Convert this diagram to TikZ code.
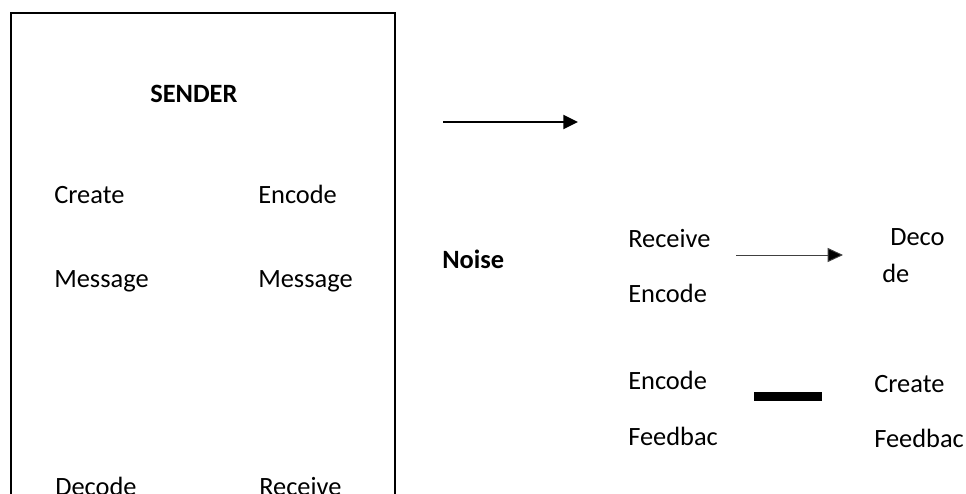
\documentclass[tikz,border=0pt]{standalone}
\usepackage{fontspec}
\setmainfont{Carlito}
\usetikzlibrary{arrows.meta}
\tikzset{
  lbl/.style={inner sep=0pt, anchor=base west, font=\fontsize{19.8}{24}\selectfont},
  lblbold/.style={lbl, font=\fontsize{19.8}{24}\selectfont\bfseries},
  bigarrow/.style={line width=1.6pt, -{Triangle[length=11pt,width=10.5pt]}},
  thinarrow/.style={line width=0.7pt, draw=black!75, -{Triangle[length=11.5pt,width=10.5pt,fill=black]}},
  feedbar/.style={line width=7.2pt}
}
\begin{document}
\begin{tikzpicture}[x=0.75pt,y=-0.75pt]
  % page area; everything below the lower edge is cut off
  \clip (0,0) rectangle (966,493);
  \fill[white] (0,0) rectangle (966,493);

  % sender panel
  \draw[line width=1.5pt] (11,13) rectangle (395,520);
  \node[lblbold] (sender) at (150,102) {SENDER};
  \node[lbl] (create) at (54,203) {Create};
  \node[lbl] (createmsg) at (54,287) {Message};
  \node[lbl] (encode) at (258,203) {Encode};
  \node[lbl] (encodemsg) at (258,287) {Message};
  \node[lbl] (decode) at (55,495) {Decode};
  \node[lbl] (receive) at (259,495) {Receive};

  % channel arrow
  \coordinate (chanA) at (443,122);
  \coordinate (chanB) at (578,122);
  \draw[bigarrow] (chanA) -- (chanB);

  \node[lblbold] (noise) at (442,268) {Noise};

  % receiver side
  \node[lbl] (rreceive) at (628,247) {Receive};
  \node[lbl] (rencode) at (628,302) {Encode};
  \node[lbl] (rdeco) at (890,245) {Deco};
  \node[lbl] (rde) at (882,282) {de};
  \coordinate (decA) at (736,255);
  \coordinate (decB) at (843,255);
  \draw[thinarrow] (decA) -- (decB);

  % feedback row
  \node[lbl] (fencode) at (628,389) {Encode};
  \node[lbl] (ffeed) at (628,445) {Feedbac};
  \node[lbl] (fcreate) at (874,392) {Create};
  \node[lbl] (ffeed2) at (874,447) {Feedbac};
  \coordinate (barA) at (754,396.5);
  \coordinate (barB) at (822,396.5);
  \draw[feedbar] (barA) -- (barB);
\end{tikzpicture}
\end{document}
